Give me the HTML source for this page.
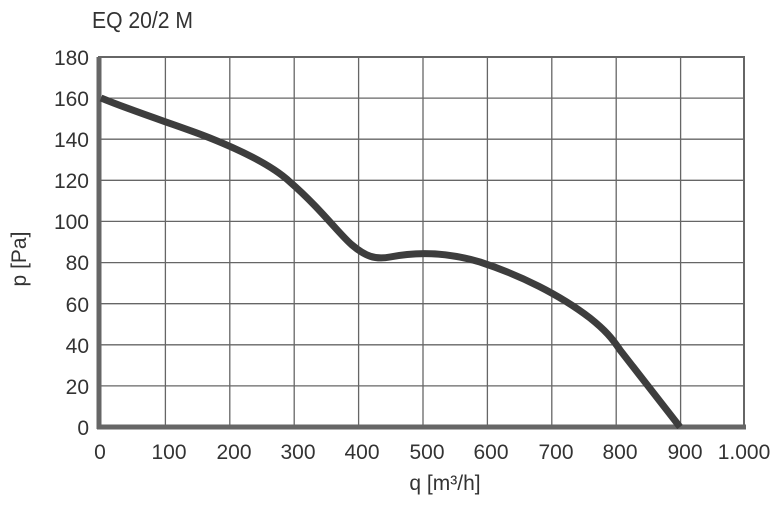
<!DOCTYPE html>
<html><head><style>
body{margin:0;background:#fff;}
svg text{font-family:"Liberation Sans",sans-serif;fill:#333;}
</style></head><body>
<svg width="777" height="503" xmlns="http://www.w3.org/2000/svg">
<text x="92" y="28" font-size="23" transform="translate(92,0) scale(0.92,1) translate(-92,0)">EQ 20/2 M</text>
<g stroke="#666" stroke-width="1.3">
<line x1="165.4" y1="57" x2="165.4" y2="427"/>
<line x1="229.8" y1="57" x2="229.8" y2="427"/>
<line x1="294.2" y1="57" x2="294.2" y2="427"/>
<line x1="358.6" y1="57" x2="358.6" y2="427"/>
<line x1="423" y1="57" x2="423" y2="427"/>
<line x1="487.4" y1="57" x2="487.4" y2="427"/>
<line x1="551.8" y1="57" x2="551.8" y2="427"/>
<line x1="616.2" y1="57" x2="616.2" y2="427"/>
<line x1="680.6" y1="57" x2="680.6" y2="427"/>
<line x1="101" y1="98.1" x2="744" y2="98.1"/>
<line x1="101" y1="139.2" x2="744" y2="139.2"/>
<line x1="101" y1="180.3" x2="744" y2="180.3"/>
<line x1="101" y1="221.4" x2="744" y2="221.4"/>
<line x1="101" y1="262.6" x2="744" y2="262.6"/>
<line x1="101" y1="303.7" x2="744" y2="303.7"/>
<line x1="101" y1="344.8" x2="744" y2="344.8"/>
<line x1="101" y1="385.9" x2="744" y2="385.9"/>
</g>
<rect x="99" y="57" width="645" height="370" fill="none" stroke="#666" stroke-width="2"/>
<line x1="99" y1="57" x2="99" y2="429" stroke="#666" stroke-width="5"/>
<line x1="97" y1="427" x2="746" y2="427" stroke="#666" stroke-width="5"/>
<path d="M101,98 C140,114 180,126 210,138 C250,154 275,168 290,182 C320,208 340,235 352,245 C365,256 375,260 390,257 C410,253 440,250 480,262 C520,275 560,295 590,318 C605,330 612,338 620,350 L680,427" fill="none" stroke="#3d3d3d" stroke-width="7" stroke-linejoin="round"/>
<g font-size="21" text-anchor="end">
<text x="89" y="65">180</text><text x="89" y="106">160</text><text x="89" y="147">140</text>
<text x="89" y="188">120</text><text x="89" y="229">100</text><text x="89" y="270">80</text>
<text x="89" y="312">60</text><text x="89" y="353">40</text><text x="89" y="394">20</text>
<text x="89" y="435">0</text>
</g>
<g font-size="21" text-anchor="middle">
<text x="100" y="459">0</text><text x="169" y="459">100</text><text x="234" y="459">200</text>
<text x="298" y="459">300</text><text x="362" y="459">400</text><text x="427" y="459">500</text>
<text x="491" y="459">600</text><text x="556" y="459">700</text><text x="620" y="459">800</text>
<text x="685" y="459">900</text><text x="744" y="459">1.000</text>
</g>
<text x="445" y="490" font-size="21" text-anchor="middle">q [m³/h]</text>
<text transform="translate(26,259) rotate(-90)" font-size="21" text-anchor="middle">p [Pa]</text>
</svg>
</body></html>
